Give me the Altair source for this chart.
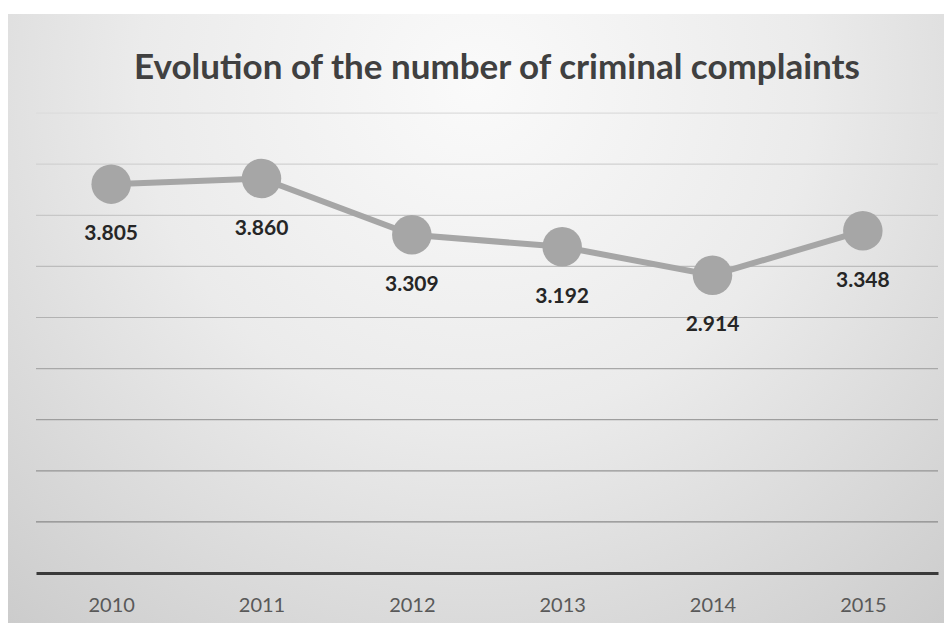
import altair as alt
import pandas as pd

years = ["2010", "2011", "2012", "2013", "2014", "2015"]
complaints = [3805, 3860, 3309, 3192, 2914, 3348]
grid_values = [500, 1000, 1500, 2000, 2500, 3000, 3500, 4000, 4500]
title_text = "Evolution of the number of criminal complaints"

df = pd.DataFrame({"year": years, "complaints": complaints})
grid_df = pd.DataFrame({"g": grid_values})
bg_df = pd.DataFrame({"title": [title_text]})

Y_DOMAIN = [0, 5000]
FONT = "Lato"

bg = alt.Chart(bg_df).mark_rect(
    fill=alt.Gradient(
        gradient="radial",
        x1=0.5, y1=0.25, r1=0.0,
        x2=0.5, y2=0.25, r2=0.8,
        stops=[
            alt.GradientStop(offset=0.0, color="#fafafa"),
            alt.GradientStop(offset=0.45, color="#ebebeb"),
            alt.GradientStop(offset=1.0, color="#c9c9c9"),
        ],
    )
).encode(
    x=alt.value(-28), x2=alt.value(908),
    y=alt.value(-48), y2=alt.value(561),
)

title = alt.Chart(bg_df).mark_text(
    font=FONT, fontSize=35, fontWeight="bold", color="#404040",
    align="center", baseline="alphabetic",
).encode(x=alt.value(461), y=alt.value(17), text="title:N")

grid = alt.Chart(grid_df).mark_rule(strokeWidth=1.2).encode(
    y=alt.Y("g:Q", scale=alt.Scale(domain=Y_DOMAIN), axis=None),
    color=alt.Color("g:Q", scale=alt.Scale(domain=[500, 4500], range=["#8a8a8a", "#dcdcdc"]), legend=None),
)

x_enc = alt.X(
    "year:O",
    sort=years,
    axis=alt.Axis(
        title=None, labelAngle=0, labelFont=FONT, labelFontSize=20,
        labelColor="#595959", ticks=False, grid=False,
        domain=True, domainColor="#3a3a3a", domainWidth=3,
        labelPadding=22, zindex=1,
    ),
)
y_enc = alt.Y("complaints:Q", scale=alt.Scale(domain=Y_DOMAIN), axis=None)

line = alt.Chart(df).mark_line(color="#a6a6a6", strokeWidth=6).encode(x=x_enc, y=y_enc)
points = alt.Chart(df).mark_circle(color="#a6a6a6", opacity=1, size=1560).encode(x=x_enc, y=y_enc)
labels = alt.Chart(df).transform_calculate(
    lbl="replace(format(datum.complaints, ','), ',', '.')"
).mark_text(
    dy=50, font=FONT, fontSize=21, fontWeight="bold", color="#262626"
).encode(x=x_enc, y=y_enc, text="lbl:N")

chart = alt.layer(bg, title, grid, line, points, labels).properties(
    width=902,
    height=511,
    padding={"left": 28, "top": 54, "right": 6, "bottom": 50},
    autosize=alt.AutoSizeParams(type="none"),
).configure_view(stroke=None).configure(background="white")

chart.save("out.html", embed_options={"renderer": "svg", "actions": False})
